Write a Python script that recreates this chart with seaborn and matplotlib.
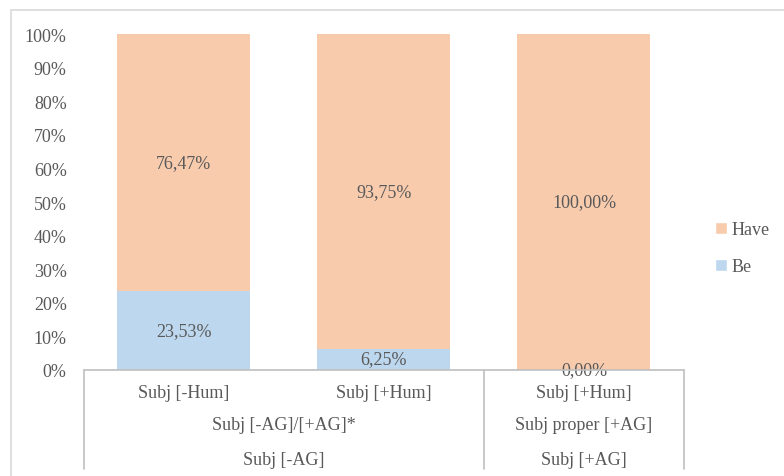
import matplotlib
matplotlib.use("Agg")
import matplotlib.pyplot as plt
import seaborn as sns
import pandas as pd
from matplotlib.patches import Rectangle, Patch
from matplotlib.lines import Line2D

categories = ["Subj [-Hum]", "Subj [+Hum]", "Subj [+Hum] "]
level2 = ["Subj [-AG]/[+AG]*", "Subj proper [+AG]"]
level3 = ["Subj [-AG]", "Subj [+AG]"]
be_values = [23.53, 6.25, 0.00]
have_values = [76.47, 93.75, 100.00]
yticks = [0, 10, 20, 30, 40, 50, 60, 70, 80, 90, 100]

HAVE_C = "#F8CBAD"
BE_C = "#BDD7EE"
TXT = "#595959"
FS = 13

sns.set_theme(style="white")
plt.rcParams["font.family"] = ["Liberation Serif", "DejaVu Serif"]

W, H = 784, 477
fig = plt.figure(figsize=(W / 100, H / 100), dpi=100)
ax = fig.add_axes([84 / W, 1 - 371 / H, 600 / W, 336 / H])

df = pd.DataFrame({"cat": categories, "be": be_values, "have": have_values})
df["total"] = df["be"] + df["have"]

sns.barplot(data=df, x="cat", y="total", color=HAVE_C, width=0.665,
            saturation=1, ax=ax, order=categories)
sns.barplot(data=df, x="cat", y="be", color=BE_C, width=0.665,
            saturation=1, ax=ax, order=categories)
for p in ax.patches:
    p.set_edgecolor("none")

ax.set_xlim(-0.5, 2.5)
ax.set_ylim(0, 100)
ax.set_yticks(yticks)
ax.set_yticklabels([f"{v}%" for v in yticks], fontsize=FS, color=TXT)
ax.tick_params(axis="y", length=0, pad=12.5)
ax.set_xticks([])
ax.set_xlabel("")
ax.set_ylabel("")
for s in ax.spines.values():
    s.set_visible(False)

def fmt(v):
    return f"{v:.2f}%".replace(".", ",")

for i, (b, h) in enumerate(zip(be_values, have_values)):
    ax.text(i, b + h / 2, fmt(h), ha="center", va="center", fontsize=FS, color=TXT)
    if b > 0:
        ypos = b / 2 if b > 10 else b / 2 + 0.3
        ax.text(i, ypos, fmt(b), ha="center", va="center", fontsize=FS, color=TXT)
    else:
        ax.text(i, 0, fmt(b), ha="center", va="center", fontsize=FS, color=TXT)

def fx(px):
    return px / W
def fy(py):
    return 1 - py / H

line_c = "#BFBFBF"
fig.add_artist(Line2D([fx(84), fx(684)], [fy(371), fy(371)], color=line_c, lw=1.2))
for xp in [84, 484, 684]:
    fig.add_artist(Line2D([fx(xp), fx(xp)], [fy(371), fy(470)], color=line_c, lw=1.2))

for i, c in enumerate(categories):
    ax.text(i, -6.6, c.strip(), ha="center", va="center", fontsize=FS, color=TXT, clip_on=False)
fig.text(fx(284), fy(426), level2[0], ha="center", va="center", fontsize=FS, color=TXT)
fig.text(fx(584), fy(426), level2[1], ha="center", va="center", fontsize=FS, color=TXT)
fig.text(fx(284), fy(461), level3[0], ha="center", va="center", fontsize=FS, color=TXT)
fig.text(fx(584), fy(461), level3[1], ha="center", va="center", fontsize=FS, color=TXT)

handles = [Patch(facecolor=HAVE_C, label="Have"), Patch(facecolor=BE_C, label="Be")]
fig.legend(handles=handles, loc="center left", bbox_to_anchor=(fx(699), fy(249)),
           frameon=False, fontsize=FS, handlelength=0.65, handleheight=0.65,
           handletextpad=0.25, labelspacing=1.1, labelcolor=TXT)

fig.add_artist(Rectangle((fx(11), fy(490)), fx(790) - fx(11), fy(11) - fy(490),
                         fill=False, edgecolor="#D9D9D9", lw=1.2, transform=fig.transFigure))

fig.savefig("out.png", dpi=100)
